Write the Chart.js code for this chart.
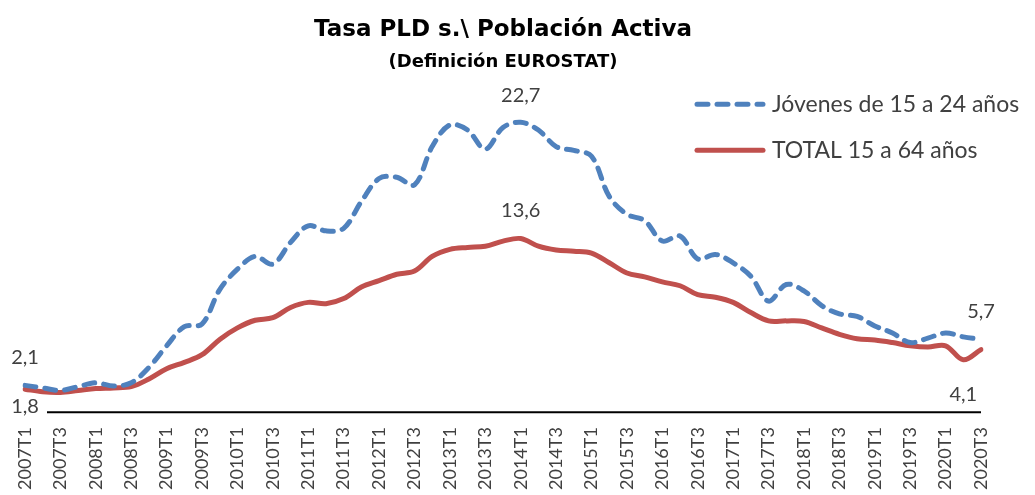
<!DOCTYPE html>
<html>
<head>
<meta charset="utf-8">
<script src="https://cdn.jsdelivr.net/npm/chart.js@4/dist/chart.umd.min.js"></script>
<style>
  html, body { margin: 0; padding: 0; background: #fff; }
  #wrap { width: 1035px; height: 495px; }
</style>
</head>
<body>
<div id="wrap"><canvas id="pldChart"></canvas></div>
<script>
// Quarters 2007T1 .. 2020T3
const quarters = [
  "2007T1", "2007T2", "2007T3", "2007T4", "2008T1", "2008T2", "2008T3", "2008T4",
  "2009T1", "2009T2", "2009T3", "2009T4", "2010T1", "2010T2", "2010T3", "2010T4",
  "2011T1", "2011T2", "2011T3", "2011T4", "2012T1", "2012T2", "2012T3", "2012T4",
  "2013T1", "2013T2", "2013T3", "2013T4", "2014T1", "2014T2", "2014T3", "2014T4",
  "2015T1", "2015T2", "2015T3", "2015T4", "2016T1", "2016T2", "2016T3", "2016T4",
  "2017T1", "2017T2", "2017T3", "2017T4", "2018T1", "2018T2", "2018T3", "2018T4",
  "2019T1", "2019T2", "2019T3", "2019T4", "2020T1", "2020T2", "2020T3"
];

// Jóvenes de 15 a 24 años
const youth = [
  2.1, 1.9, 1.7, 2.0, 2.3, 2.05, 2.3, 3.5, 5.2, 6.7, 6.9,
  9.6, 11.2, 12.2, 11.6, 13.3, 14.6, 14.2, 14.4, 16.5, 18.3, 18.4,
  17.8, 20.8, 22.5, 22.1, 20.6, 22.3, 22.7, 22.1, 20.8, 20.5, 20.05,
  16.9, 15.5, 15.0, 13.4, 13.8, 12.0, 12.35, 11.7, 10.65, 8.7, 10.0,
  9.5, 8.35, 7.7, 7.5, 6.75, 6.2, 5.45, 5.8, 6.2, 5.9, 5.7
];

// TOTAL 15 a 64 años
const total = [
  1.8, 1.6, 1.55, 1.7, 1.85, 1.9, 2.0, 2.6, 3.4, 3.9, 4.5,
  5.7, 6.6, 7.2, 7.4, 8.2, 8.6, 8.5, 8.9, 9.8, 10.3, 10.8,
  11.05, 12.2, 12.75, 12.9, 13.0, 13.4, 13.6, 13.0, 12.7, 12.6, 12.45,
  11.7, 10.9, 10.6, 10.2, 9.9, 9.2, 9.0, 8.6, 7.8, 7.15, 7.15,
  7.1, 6.6, 6.1, 5.75, 5.65, 5.45, 5.2, 5.1, 5.2, 4.1, 4.9
];

// which points carry a value label: [datasetIndex, pointIndex, offsetY]
const valueLabels = [
  [0, 0, -28], [1, 0, 17],
  [0, 28, -27], [1, 28, -28],
  [0, 54, -28], [1, 53, 35]
];

const BLUE = "#4F81BD";
const RED = "#C0504D";
const TEXT = "#404040";
const FONT = "Lato, 'DejaVu Sans', sans-serif";
const TITLE_FONT = "'DejaVu Sans', sans-serif";

const fmt = (v) => v.toFixed(1).replace(".", ",");

// value labels
const labelPlugin = {
  id: "valueLabels",
  afterDatasetsDraw(chart) {
    const ctx = chart.ctx;
    ctx.save();
    ctx.font = "20px " + FONT;
    ctx.fillStyle = TEXT;
    ctx.textAlign = "center";
    ctx.textBaseline = "middle";
    valueLabels.forEach(([ds, i, dy]) => {
      const pt = chart.getDatasetMeta(ds).data[i];
      const v = chart.data.datasets[ds].data[i];
      ctx.fillText(fmt(v), pt.x, pt.y + dy);
    });
    ctx.restore();
  }
};

// axis line at zero, starting a little right of the first category
const axisPlugin = {
  id: "zeroLine",
  afterDatasetsDraw(chart) {
    const ctx = chart.ctx;
    const x = chart.scales.x;
    const y = chart.scales.y.getPixelForValue(0);
    ctx.save();
    ctx.strokeStyle = "#000";
    ctx.lineWidth = 2;
    ctx.beginPath();
    ctx.moveTo(x.left + 22, y);
    ctx.lineTo(x.right, y);
    ctx.stroke();
    ctx.restore();
  }
};

// legend drawn inside the plot, top right
const legendPlugin = {
  id: "insideLegend",
  afterDraw(chart) {
    const ctx = chart.ctx;
    const area = chart.chartArea;
    const x0 = area.right - 284;
    const rows = [area.top + 24, area.top + 70];
    ctx.save();
    chart.data.datasets.forEach((ds, k) => {
      const yy = rows[k];
      ctx.strokeStyle = ds.borderColor;
      ctx.lineWidth = ds.borderWidth;
      ctx.lineCap = "round";
      ctx.setLineDash(ds.borderDash || []);
      ctx.beginPath();
      ctx.moveTo(x0, yy);
      ctx.lineTo(x0 + 66, yy);
      ctx.stroke();
      ctx.setLineDash([]);
      ctx.font = "23px " + FONT;
      ctx.fillStyle = TEXT;
      ctx.textAlign = "left";
      ctx.textBaseline = "middle";
      ctx.fillText(ds.label, x0 + 75, yy);
    });
    ctx.restore();
  }
};

const ctx = document.getElementById("pldChart").getContext("2d");
const pldChart = new Chart(ctx, {
  type: "line",
  data: {
    labels: quarters,
    datasets: [
      {
        label: "Jóvenes de 15 a 24 años",
        data: youth,
        borderColor: BLUE,
        borderWidth: 5,
        borderDash: [11, 9],
        borderCapStyle: "round",
        borderJoinStyle: "round",
        pointRadius: 0,
        tension: 0.35,
        fill: false
      },
      {
        label: "TOTAL 15 a 64 años",
        data: total,
        borderColor: RED,
        borderWidth: 5,
        borderCapStyle: "round",
        borderJoinStyle: "round",
        pointRadius: 0,
        tension: 0.35,
        fill: false
      }
    ]
  },
  options: {
    responsive: true,
    maintainAspectRatio: false,
    animation: false,
    layout: { padding: { left: 25, right: 54, top: 4, bottom: -10 } },
    plugins: {
      legend: { display: false },
      tooltip: { enabled: false },
      title: {
        display: true,
        text: "Tasa PLD s.\\ Población Activa",
        color: "#000",
        font: { family: TITLE_FONT, size: 23, weight: "bold" },
        padding: { top: 12, bottom: 8 }
      },
      subtitle: {
        display: true,
        text: "(Definición EUROSTAT)",
        color: "#000",
        font: { family: TITLE_FONT, size: 18, weight: "bold" },
        padding: { top: 0, bottom: 7 }
      }
    },
    scales: {
      x: {
        offset: false,
        border: { display: false },
        grid: { display: false, drawTicks: false },
        ticks: {
          autoSkip: false,
          maxRotation: 90,
          minRotation: 90,
          padding: 15,
          color: TEXT,
          font: { family: FONT, size: 18 },
          callback: function (val, i) {
            return i % 2 === 0 ? this.getLabelForValue(val) : "";
          }
        }
      },
      y: {
        display: false,
        min: 0,
        max: 26
      }
    }
  },
  plugins: [labelPlugin, axisPlugin, legendPlugin]
});
</script>
</body>
</html>
